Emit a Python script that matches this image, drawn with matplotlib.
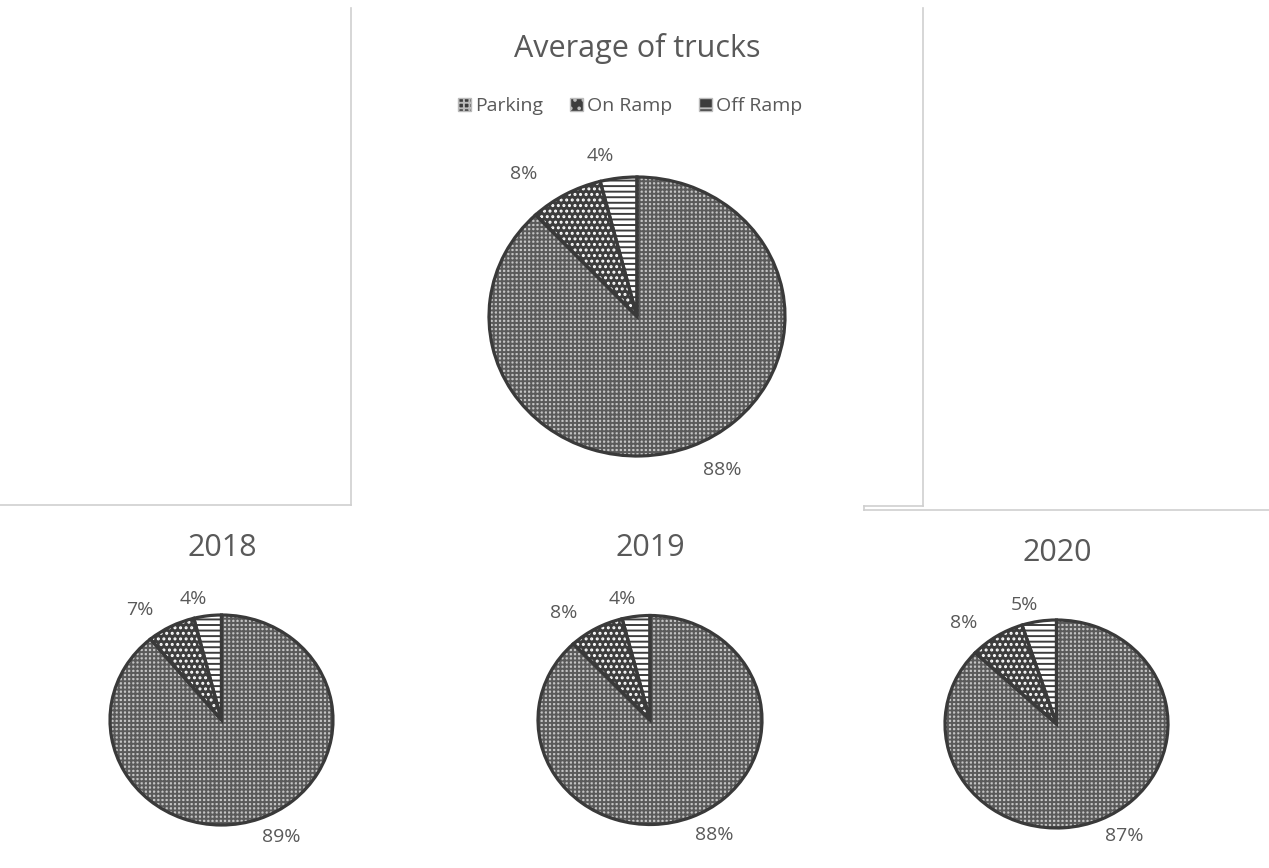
import numpy as np
import matplotlib
matplotlib.use('Agg')
import matplotlib.pyplot as plt
from matplotlib.patches import Patch
from matplotlib.lines import Line2D

# Datos
categorias = ['Parking', 'On Ramp', 'Off Ramp']
titulos = ['Average of trucks', '2018', '2019', '2020']
promedio = [88, 8, 4]
anio_2018 = [89, 7, 4]
anio_2019 = [88, 8, 4]
anio_2020 = [87, 8, 5]

# Estilo
plt.rcParams['font.family'] = ['Open Sans', 'DejaVu Sans']
plt.rcParams['hatch.linewidth'] = 1.4
gris_texto = '#595959'
borde = '#3a3a3a'
rellenos = [
    dict(facecolor='#c4c4c4', edgecolor='#5a5a5a', hatch='++++'),
    dict(facecolor='#3d3d3d', edgecolor='white', hatch='...'),
    dict(facecolor='white', edgecolor='#3d3d3d', hatch='---'),
]
desvio_angulo = [6, 8, 5]     # desplazamiento de etiquetas (grados)
distancia_etq = [1.24, 1.28, 1.18]

W, H = 1269, 868
fig = plt.figure(figsize=(W / 100, H / 100), dpi=100)


def ejes_pie(cx, cy, rx, ry):
    return fig.add_axes([(cx - rx) / W, 1 - (cy + ry) / H, 2 * rx / W, 2 * ry / H])


def dibujar_pie(ax, valores, fs):
    wedges, _ = ax.pie(valores, startangle=90, counterclock=False,
                       wedgeprops=dict(linewidth=0))
    for w, r in zip(wedges, rellenos):
        w.set_facecolor(r['facecolor'])
        w.set_edgecolor(r['edgecolor'])
        w.set_hatch(r['hatch'])
    ax.pie(valores, startangle=90, counterclock=False,
           wedgeprops=dict(fill=False, edgecolor=borde, linewidth=2.3))
    total = sum(valores)
    inicio = 90.0
    for i, v in enumerate(valores):
        ang = inicio - 360.0 * v / total / 2 + desvio_angulo[i]
        inicio -= 360.0 * v / total
        d = distancia_etq[i]
        ax.text(d * np.cos(np.radians(ang)), d * np.sin(np.radians(ang)),
                f'{v}%', ha='center', va='center', fontsize=fs, color=gris_texto)
    ax.set_xlim(-1, 1)
    ax.set_ylim(-1, 1)
    ax.set_aspect('auto')
    ax.axis('off')


ax0 = ejes_pie(637, 316.5, 148, 139.5)
dibujar_pie(ax0, promedio, 14)
ax1 = ejes_pie(221.5, 720, 111.5, 105)
dibujar_pie(ax1, anio_2018, 14)
ax2 = ejes_pie(650, 720, 112, 104.5)
dibujar_pie(ax2, anio_2019, 14)
ax3 = ejes_pie(1056.5, 724, 111.5, 104)
dibujar_pie(ax3, anio_2020, 14)

# Titulos
fig.text(637 / W, 1 - 48 / H, titulos[0], ha='center', va='center', fontsize=22, color=gris_texto)
fig.text(222 / W, 1 - 548 / H, titulos[1], ha='center', va='center', fontsize=22, color=gris_texto)
fig.text(650 / W, 1 - 548 / H, titulos[2], ha='center', va='center', fontsize=22, color=gris_texto)
fig.text(1057 / W, 1 - 553 / H, titulos[3], ha='center', va='center', fontsize=22, color=gris_texto)

# Leyenda
handles = [Patch(facecolor='#3d3d3d', edgecolor='#bbbbbb', hatch=h, label=c)
           for c, h in zip(categorias, ['+++', '..', '-'])]
fig.legend(handles=handles, loc='center', bbox_to_anchor=(630 / W, 1 - 106 / H),
           ncol=3, frameon=False, fontsize=14, handlelength=0.65, handleheight=0.65,
           handletextpad=0.2, columnspacing=1.4, labelcolor=gris_texto)

# Bordes de los paneles
linea = dict(color='#cfcfcf', linewidth=1.2, transform=fig.transFigure)
for xs, ys in [([351, 351], [8, 505]), ([0, 351], [505, 505]),
               ([923, 923], [8, 506]), ([864, 923], [506, 506]),
               ([864, 864], [506, 510]), ([864, 1269], [510, 510])]:
    fig.add_artist(Line2D([x / W for x in xs], [1 - y / H for y in ys], **linea))

plt.savefig('out.png', dpi=100)
